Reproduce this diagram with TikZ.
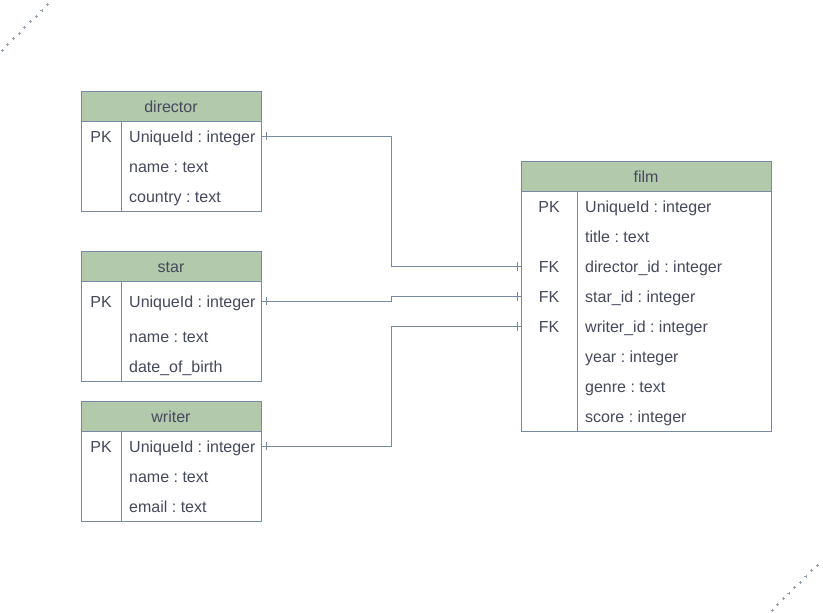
\documentclass[tikz,border=0pt]{standalone}
\usepackage{fontspec}
\setmainfont{Liberation Sans}
\frenchspacing
\definecolor{hdr}{HTML}{B2C9AB}
\definecolor{edgec}{HTML}{788AA3}
\definecolor{txt}{HTML}{46495D}
\begin{document}
\begin{tikzpicture}[x=1pt,y=-1pt,
  every node/.style={text=txt,font=\fontsize{16}{19}\selectfont},
  hdrbox/.style={draw=edgec,fill=hdr,line width=0.8pt,anchor=north west,inner sep=0pt},
  bodybox/.style={draw=edgec,fill=white,line width=0.8pt,anchor=north west,inner sep=0pt},
  keyt/.style={anchor=base,inner sep=0pt},
  fld/.style={anchor=base west,inner sep=0pt},
  conn/.style={draw=edgec,line width=0.8pt},
  dotmark/.style={draw=edgec!80,line width=0.7pt}]
\useasboundingbox (0,0) rectangle (823,613);

% corner dotted lines
\foreach \i in {0,...,8}{
  \draw[dotmark] ({2+5.7*\i-1.5},{50-5.65*\i}) -- ++(3,0) ({2+5.7*\i},{50-5.65*\i-1.5}) -- ++(0,3);
  \draw[dotmark] ({772+5.65*\i-1.5},{610-5.6*\i}) -- ++(3,0) ({772+5.65*\i},{610-5.6*\i-1.5}) -- ++(0,3);
}

% director
\node[hdrbox,minimum width=180,minimum height=30] (dirH) at (81,91) {};
\node[anchor=base] (dirT) at (171,112) {director};
\node[bodybox,minimum width=180,minimum height=90] (dirB) at (81,121) {};
\draw[conn] ([xshift=40]dirB.north west) -- ([xshift=40]dirB.south west);
\node[keyt] (dirK1) at (101,142) {PK};
\node[fld] (dirF1) at (129,142) {UniqueId : integer};
\node[fld] (dirF2) at (129,172) {name : text};
\node[fld] (dirF3) at (129,202) {country : text};

% star
\node[hdrbox,minimum width=180,minimum height=30] (starH) at (81,251) {};
\node[anchor=base] (starT) at (171,272) {star};
\node[bodybox,minimum width=180,minimum height=100] (starB) at (81,281) {};
\draw[conn] ([xshift=40]starB.north west) -- ([xshift=40]starB.south west);
\node[keyt] (starK1) at (101,307) {PK};
\node[fld] (starF1) at (129,307) {UniqueId : integer};
\node[fld] (starF2) at (129,342) {name : text};
\node[fld] (starF3) at (129,372) {date\_of\_birth};

% writer
\node[hdrbox,minimum width=180,minimum height=30] (wrH) at (81,401) {};
\node[anchor=base] (wrT) at (171,422) {writer};
\node[bodybox,minimum width=180,minimum height=90] (wrB) at (81,431) {};
\draw[conn] ([xshift=40]wrB.north west) -- ([xshift=40]wrB.south west);
\node[keyt] (wrK1) at (101,452) {PK};
\node[fld] (wrF1) at (129,452) {UniqueId : integer};
\node[fld] (wrF2) at (129,482) {name : text};
\node[fld] (wrF3) at (129,512) {email : text};

% film
\node[hdrbox,minimum width=250,minimum height=30] (filmH) at (521,161) {};
\node[anchor=base] (filmT) at (646,182) {film};
\node[bodybox,minimum width=250,minimum height=240] (filmB) at (521,191) {};
\draw[conn] ([xshift=56]filmB.north west) -- ([xshift=56]filmB.south west);
\node[keyt] (filmK1) at (549,212) {PK};
\node[keyt] (filmK3) at (549,272) {FK};
\node[keyt] (filmK4) at (549,302) {FK};
\node[keyt] (filmK5) at (549,332) {FK};
\node[fld] (filmF1) at (585,212) {UniqueId : integer};
\node[fld] (filmF2) at (585,242) {title : text};
\node[fld] (filmF3) at (585,272) {director\_id : integer};
\node[fld] (filmF4) at (585,302) {star\_id : integer};
\node[fld] (filmF5) at (585,332) {writer\_id : integer};
\node[fld] (filmF6) at (585,362) {year : integer};
\node[fld] (filmF7) at (585,392) {genre : text};
\node[fld] (filmF8) at (585,422) {score : integer};

% connectors
\coordinate (midx) at (391,0);
\coordinate (dA) at ([yshift=6]dirB.east |- dirF1.base);
\coordinate (fA) at ([yshift=6]filmB.west |- filmF3.base);
\coordinate (dB) at ([yshift=6]starB.east |- starF1.base);
\coordinate (fB) at ([yshift=6]filmB.west |- filmF4.base);
\coordinate (dC) at ([yshift=6]wrB.east |- wrF1.base);
\coordinate (fC) at ([yshift=6]filmB.west |- filmF5.base);
\draw[conn] (dA) -| (midx |- fA) -- (fA);
\draw[conn] (dB) -| (midx |- fB) -- (fB);
\draw[conn] (dC) -| (midx |- fC) -- (fC);
\foreach \c in {dA,dB,dC}{
  \draw[conn] ([shift={(4.5,-4)}]\c) -- ++(0,8);
}
\foreach \c in {fA,fB,fC}{
  \draw[conn] ([shift={(-4,-4.5)}]\c) -- ++(0,9);
}
\end{tikzpicture}
\end{document}
